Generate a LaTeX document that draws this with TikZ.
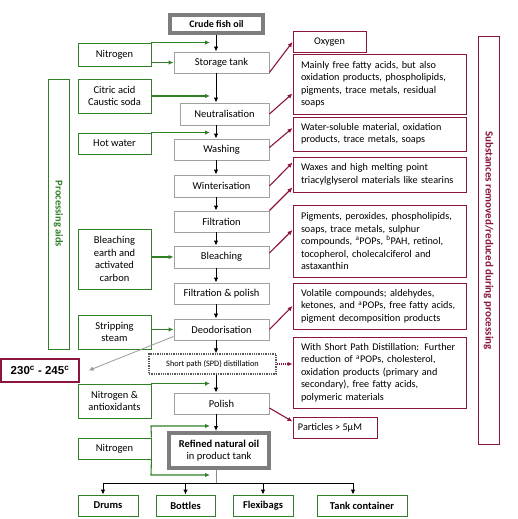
\documentclass[tikz,border=0pt]{standalone}
\usepackage{fontspec}
\setmainfont{Carlito}
\newfontfamily\arialfont{Liberation Sans}
\usetikzlibrary{arrows.meta,calc}
\definecolor{pgreen}{RGB}{48,128,40}
\definecolor{pred}{RGB}{140,22,58}
\definecolor{bgray}{RGB}{160,160,160}
\definecolor{tgray}{RGB}{125,125,125}
\newcommand\fsz{\fontsize{10.5}{12.5}\selectfont}
\newcommand\rfs{\fontsize{10.2}{12.5}\selectfont}
\newcommand\nw[1]{\mbox{#1}}
\tikzset{
  base/.style={inner sep=0pt, font=\fsz, align=center},
  mainbox/.style={base, draw=bgray, line width=0.9pt, minimum width=95pt, minimum height=21pt},
  thickbox/.style={base, draw=tgray, line width=4pt},
  spdbox/.style={base, draw=black!65, line width=1.3pt, densely dotted, minimum width=127pt, minimum height=20pt, font=\fontsize{8.3}{10}\selectfont},
  gbox/.style={base, draw=pgreen, line width=0.9pt, minimum width=73pt},
  rbox/.style={base, draw=pred, line width=1pt, inner xsep=8pt, text width=157pt, align=left, font=\rfs},
  rsmall/.style={base, draw=pred, line width=1pt, minimum height=21pt, font=\rfs},
  obox/.style={base, draw=pgreen, line width=0.9pt, minimum height=21pt, font=\fsz\bfseries},
  barrow/.style={draw=black, line width=0.9pt, -{Latex[length=5pt,width=4.5pt]}},
  garrow/.style={draw=pgreen, line width=1.1pt, -{Latex[length=5pt,width=4.5pt]}},
  rarrow/.style={draw=pred, line width=1.1pt, -{Latex[length=5pt,width=4.5pt]}},
}
\begin{document}
\begin{tikzpicture}[x=1pt,y=-1pt]
\useasboundingbox (0,0) rectangle (517,519);
% main column
\node[thickbox, minimum width=93pt, minimum height=18pt, font=\fontsize{10}{12}\selectfont\bfseries] (crude) at (216.5,24) {Crude fish oil};
\node[mainbox] (storage) at (221.5,62.5) {Storage tank};
\node[mainbox, minimum width=89pt, minimum height=22pt] (neutral) at (224.5,114) {Neutralisation};
\node[mainbox] (washing) at (221.5,149.5) {Washing};
\node[mainbox, minimum height=22pt] (wint) at (221.5,186) {Winterisation};
\node[mainbox] (filt) at (221.5,221.5) {Filtration};
\node[mainbox, minimum height=22pt] (bleaching) at (221.5,257) {Bleaching};
\node[mainbox] (filtpol) at (221.5,293.5) {Filtration \& polish};
\node[mainbox] (deod) at (221.5,329.5) {Deodorisation};
\node[spdbox] (spd) at (212.5,364) {Short path (SPD) distillation};
\node[mainbox] (polish) at (221.5,403.5) {Polish};
\node[thickbox, minimum width=100pt, minimum height=35pt] (refined) at (219,450.5) {\textbf{Refined natural oil}\\in product tank};
\coordinate (spine) at (216,0);
\coordinate (gtip) at (210,0);
\foreach \a/\b in {crude/storage, storage/neutral, neutral/washing, washing/wint, wint/filt, filt/bleaching, bleaching/filtpol, filtpol/deod, deod/spd, spd/polish, polish/refined}
  \draw[barrow] (\a.south -| spine) -- (\b.north -| spine);
% left green boxes
\node[gbox, minimum height=23pt] (nit1) at (114.5,54.5) {Nitrogen};
\node[gbox, minimum height=34pt] (citric) at (114.5,96) {Citric acid\\Caustic soda};
\node[gbox, minimum height=21pt] (hot) at (114.5,143.5) {Hot water};
\node[gbox, minimum height=60pt] (bleach) at (114.5,259) {Bleaching\\earth and\\activated\\carbon};
\node[gbox, minimum height=34pt] (strip) at (114.5,332) {Stripping\\steam};
\node[gbox, minimum height=34pt] (nao) at (114.5,401) {Nitrogen \&\\antioxidants};
\node[gbox, minimum height=21pt] (nit2) at (114.5,448.5) {Nitrogen};
\node[base, draw=pgreen, line width=0.9pt, rotate=-90, minimum width=270pt, minimum height=21pt, text=pgreen, font=\fsz\bfseries] (proc) at (58.5,214) {Processing aids};
\node[base, draw=pred, line width=1.1pt, minimum width=78pt, minimum height=23pt, font=\arialfont\fontsize{11.5}{13}\selectfont\bfseries] (temp) at (40,370.5) {230\textsuperscript{c} - 245\textsuperscript{c}};
% green arrows
\draw[garrow] (nit1.north east) -- (nit1.north east -| gtip);
\draw[garrow] (nit1.east |- storage.west) -- (storage.west);
\draw[garrow] (citric.east) -- (citric.east -| gtip);
\draw[garrow] (hot.north east) -- (hot.north east -| gtip);
\draw[garrow] (bleach.east |- bleaching.west) -- (bleaching.west);
\draw[garrow] (strip.east |- deod.west) -- (deod.west);
\draw[garrow] (nao.north east) -- (nao.north east -| gtip);
\coordinate (n2top) at (151,426);
\coordinate (n2bot) at (151,475);
\draw[garrow] (nit2.north east) -- (n2top) -- (n2top -| gtip);
\draw[garrow] (nit2.south east) -- (n2bot) -- (n2bot -| gtip);
% gray temperature arrow
\draw[draw=black!40, line width=0.8pt, -{Latex[length=5pt,width=4.5pt]}] ([yshift=4pt]deod.south west) -- ([xshift=9pt]temp.east);
% right red boxes
\node[rsmall, minimum width=73pt] (oxygen) at (329.5,42) {Oxygen};
\node[rbox, minimum height=59pt] (mainly) at (379.5,84.5) {\nw{Mainly free fatty acids, but also}\\\nw{oxidation products, phospholipids,}\\\nw{pigments, trace metals, residual}\\soaps};
\node[rbox, minimum height=34pt] (water) at (379.5,134) {\nw{Water-soluble material, oxidation}\\\nw{products, trace metals, soaps}};
\node[rbox, minimum height=35pt] (waxes) at (379.5,174.5) {\nw{Waxes and high melting point}\\\nw{triacylglyserol materials like stearins}};
\node[rbox, minimum height=72pt] (pigments) at (379.5,241) {\nw{Pigments, peroxides, phospholipids,}\\\nw{soaps, trace metals, sulphur}\\\nw{compounds, \textsuperscript{a}POPs, \textsuperscript{b}PAH, retinol,}\\\nw{tocopherol, cholecalciferol and}\\astaxanthin};
\node[rbox, minimum height=46pt] (volatile) at (379.5,306) {\nw{Volatile compounds; aldehydes,}\\\nw{ketones, and \textsuperscript{a}POPs, free fatty acids,}\\\nw{pigment decomposition products}};
\node[rbox, minimum height=71pt] (shortp) at (379.5,372.5) {\nw{With Short Path Distillation: Further}\\\nw{reduction of \textsuperscript{a}POPs, cholesterol,}\\\nw{oxidation products (primary and}\\\nw{secondary), free fatty acids,}\\\nw{polymeric materials}};
\node[rsmall, minimum width=84pt, align=left] (particles) at (335,427.5) {Particles > 5µM\hspace{10pt}};
\node[base, draw=pred, line width=1pt, rotate=-90, minimum width=407pt, minimum height=21pt, text=pred, font=\fontsize{11}{13}\selectfont\bfseries] (subst) at (488.5,240.5) {Substances removed/reduced during processing};
% red arrows
\draw[rarrow] ([yshift=1pt]storage.south east) -- (oxygen.west);
\draw[rarrow] (neutral.east) -- ([yshift=-9pt]mainly.west);
\draw[rarrow] ([yshift=2pt]washing.east) -- ([yshift=6pt]water.west);
\draw[rarrow] (wint.east) -- ([yshift=12pt]waxes.west);
\draw[rarrow] (filt.north east) -- ([yshift=-13pt]waxes.west);
\draw[rarrow] ([yshift=4pt]bleaching.east) -- ([yshift=11pt]pigments.west);
\draw[rarrow] (deod.east) -- (volatile.west);
\draw[draw=pred, line width=1.1pt, densely dotted, -{Latex[length=5pt,width=4.5pt]}] (spd.east) -- (spd.east -| shortp.west);
\draw[rarrow] ([yshift=-4.5pt]polish.east) -- ([yshift=6pt]particles.west);
% bottom distribution
\node[obox, minimum width=60pt] (drums) at (108,505.5) {Drums};
\node[obox, minimum width=59pt] (bottles) at (185.5,505.5) {Bottles};
\node[obox, minimum width=60pt] (flexi) at (263,505.5) {Flexibags};
\node[obox, minimum width=90pt] (tank) at (362,505.5) {Tank container};
\coordinate (bus) at (216,483);
\draw[draw=black!45, line width=0.8pt] (refined.south -| spine) -- (bus);
\draw[draw=black, line width=1pt] ([xshift=-5pt]drums.north |- bus) -- ([xshift=-9pt]tank.north |- bus);
\draw[barrow] ([xshift=-5pt]drums.north |- bus) -- ([xshift=-5pt]drums.north);
\draw[barrow] (bottles.north |- bus) -- (bottles.north);
\draw[barrow] (flexi.north |- bus) -- (flexi.north);
\draw[barrow] ([xshift=-9pt]tank.north |- bus) -- ([xshift=-9pt]tank.north);
\end{tikzpicture}
\end{document}
